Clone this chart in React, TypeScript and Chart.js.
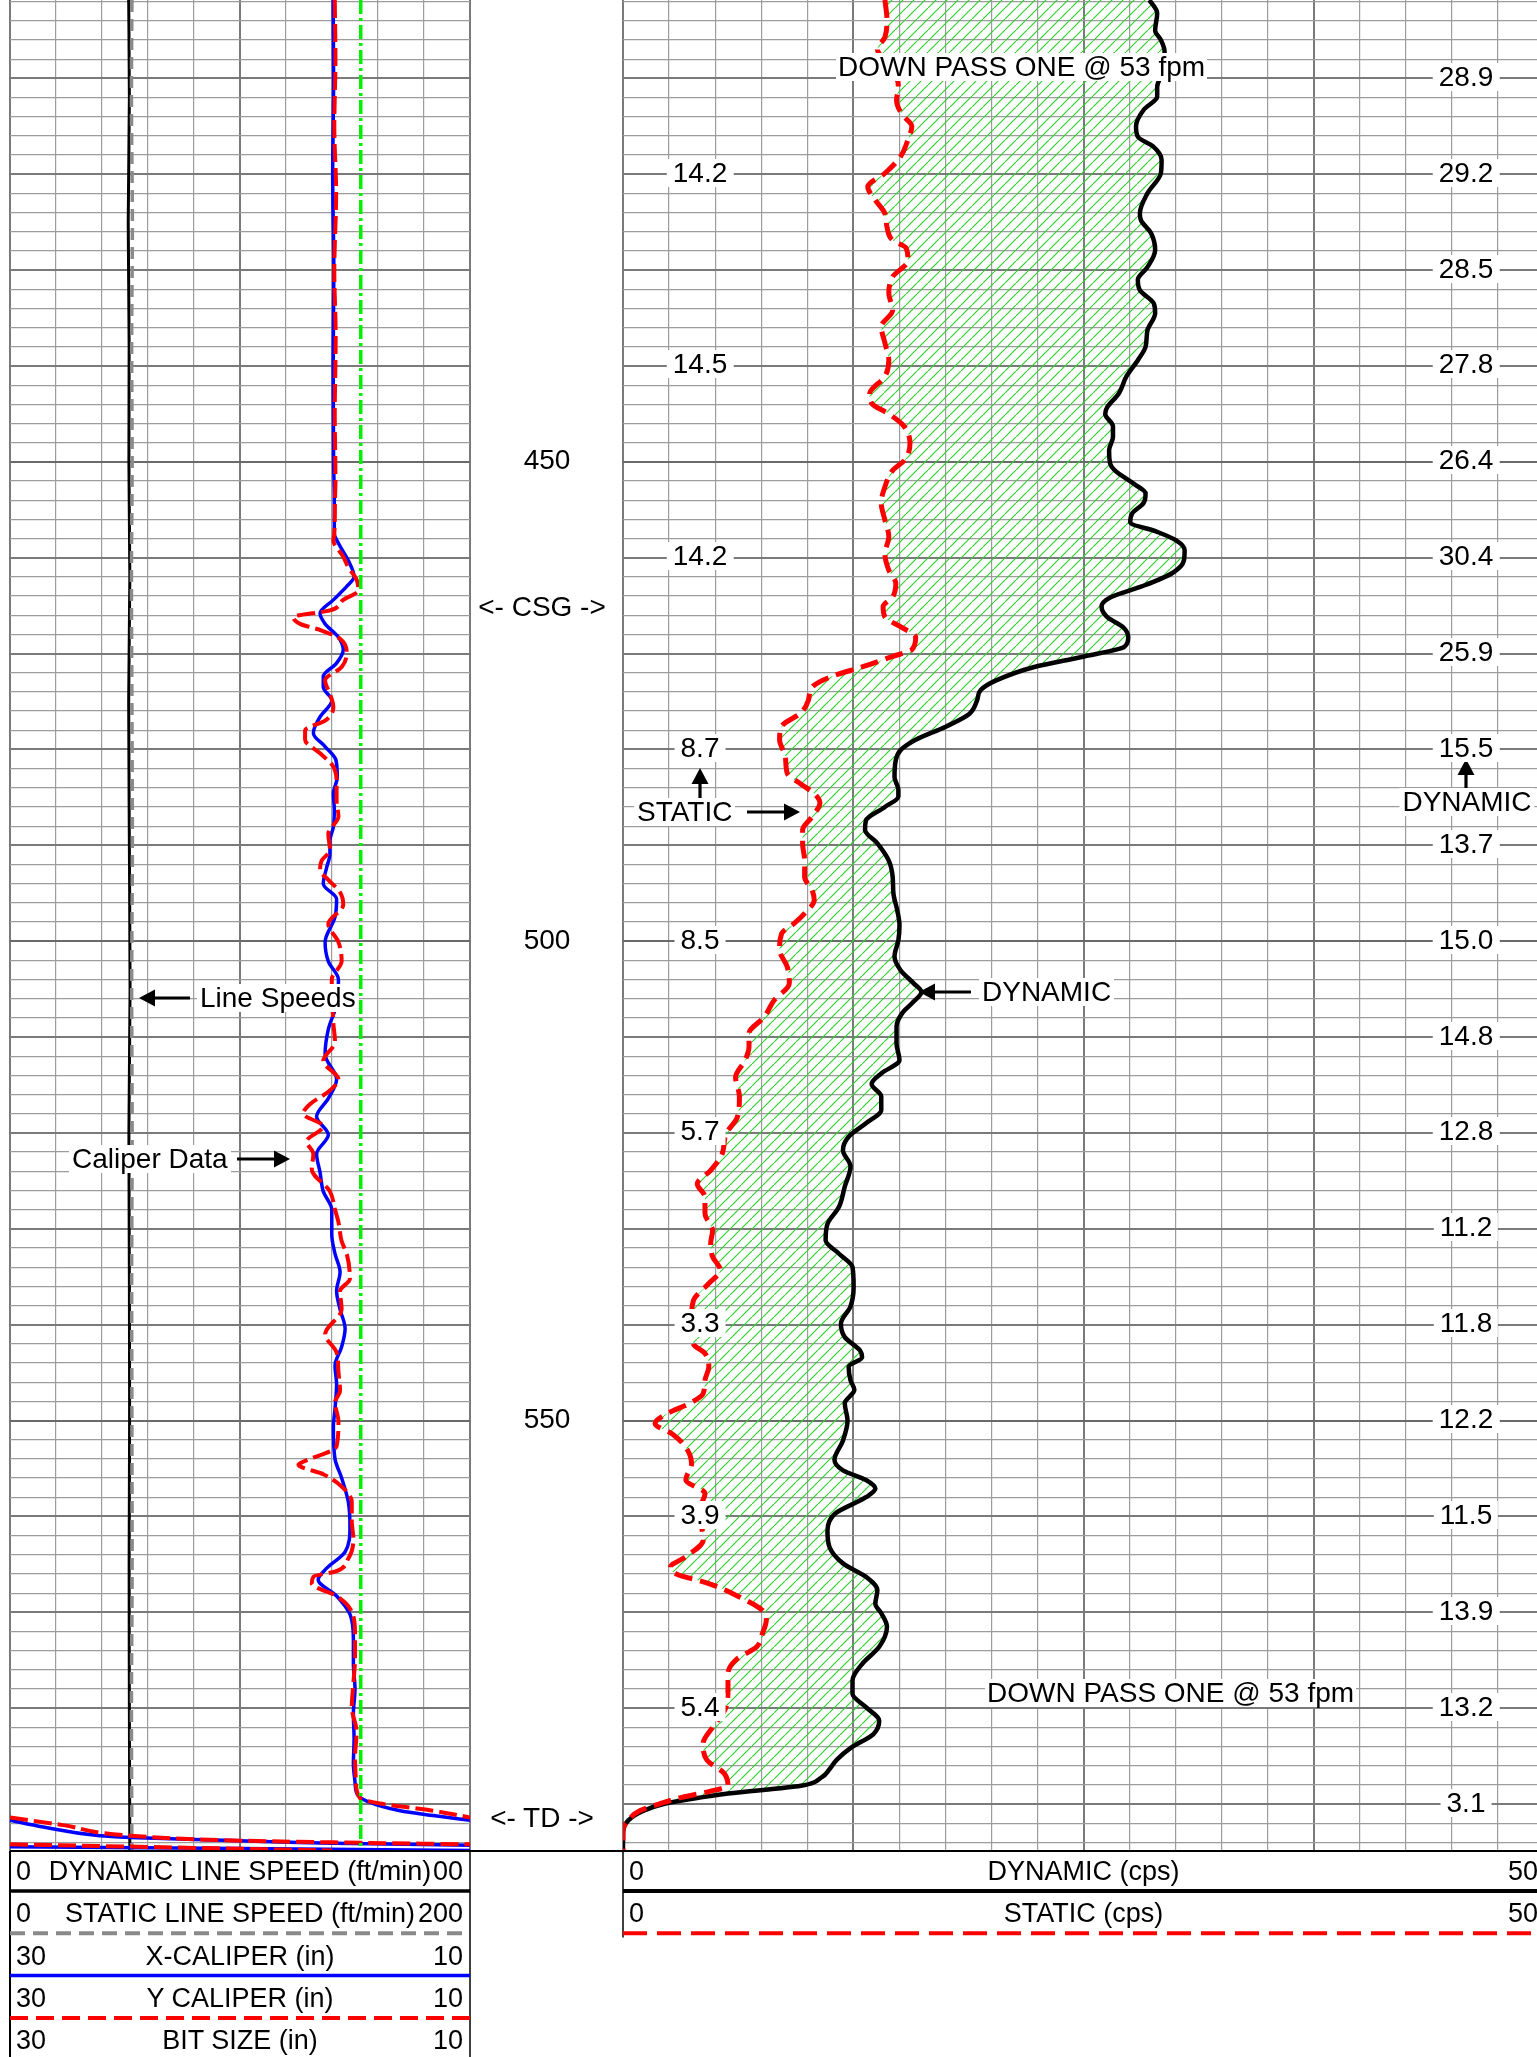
import React, { useEffect, useRef } from "react";
import { Chart, registerables } from "chart.js";

Chart.register(...registerables);

// ---------------- depth axis (ft) ----------------
const DEPTH_TOP = 401.83;
const DEPTH_BOTTOM = 594.9;
const DEPTH_LABELS = [450, 500, 550];

// ---------------- right track: count rates (cps) ----------------
const DYN_DEPTH = [
  401.83, 403.2, 405.0, 406.0, 407.2, 408.8, 410.9, 411.9, 413.3, 415.0, 416.1, 417.1, 418.5, 419.9, 422.0, 424.1,
  424.8, 426.2, 427.9, 429.7, 431.0, 432.1, 433.5, 434.5, 436.3, 438.0, 439.4, 441.1, 442.9, 444.3, 445.0, 446.3,
  447.4, 448.8, 450.2, 450.9, 452.3, 453.3, 454.3, 455.4, 456.3, 457.3, 458.2, 459.2, 460.3, 461.6, 463.0, 464.1,
  465.1, 466.2, 467.2, 468.3, 469.3, 470.3, 471.4, 472.8, 473.8, 474.9, 476.3, 477.6, 479.0, 480.1, 481.1, 482.9,
  484.2, 484.9, 486.0, 487.4, 488.4, 489.8, 491.6, 493.3, 495.0, 496.8, 498.3, 499.9, 501.6, 503.0, 504.4, 505.3,
  506.3, 507.5, 508.9, 510.7, 512.4, 513.8, 514.9, 516.2, 517.6, 519.0, 520.4, 521.8, 523.5, 525.6, 527.7, 529.5,
  531.2, 532.6, 534.0, 536.1, 538.1, 539.9, 541.3, 542.7, 543.4, 544.4, 545.8, 546.8, 548.2, 550.0, 552.1, 554.1,
  555.2, 556.2, 557.1, 558.0, 559.7, 561.5, 563.2, 564.9, 566.3, 567.7, 569.1, 570.1, 571.5, 573.6, 575.4, 577.1,
  578.5, 579.9, 581.3, 582.7, 584.1, 585.4, 586.4, 587.2, 588.1, 588.9, 589.5, 590.0, 590.7, 591.7, 593.1, 594.9,
];
const DYN_CPS = [
  28.58, 29.0, 28.89, 29.2, 29.4, 29.4, 29.0, 29.0, 28.26, 27.85, 27.95, 28.78, 29.24, 29.2, 28.47, 28.06,
  28.12, 28.68, 28.89, 28.47, 27.95, 28.06, 28.82, 28.89, 28.47, 28.37, 27.95, 27.33, 26.91, 26.29, 26.18, 26.6,
  26.6, 26.39, 26.45, 26.7, 27.74, 28.37, 28.26, 27.64, 27.54, 29.0, 30.03, 30.49, 30.45, 29.83, 28.16, 26.5,
  25.98, 26.29, 27.12, 27.43, 27.22, 25.04, 22.33, 20.26, 19.42, 19.22, 18.8, 17.55, 15.89, 15.06, 14.81, 14.74,
  14.95, 14.95, 14.22, 13.19, 13.14, 13.81, 14.43, 14.64, 14.68, 14.89, 15.01, 14.95, 14.74, 15.06, 15.78, 16.2,
  15.78, 15.16, 14.85, 14.85, 15.01, 14.02, 13.5, 14.02, 14.02, 13.19, 12.25, 11.94, 12.35, 12.04, 11.73, 11.1,
  11.0, 11.73, 12.46, 12.52, 12.35, 11.83, 12.04, 12.87, 12.98, 12.25, 12.35, 12.56, 12.04, 12.19, 11.94, 11.48,
  11.94, 13.19, 13.7, 13.19, 11.52, 11.1, 11.21, 11.94, 13.19, 13.81, 13.7, 14.02, 14.33, 13.91, 12.98, 12.46,
  12.46, 13.19, 13.91, 13.6, 12.4, 11.6, 11.2, 10.8, 9.65, 5.7, 3.62, 2.2, 1.12, 0.29, 0.0, 0.0,
];

const STAT_DEPTH = [
  401.83, 403.9, 405.7, 407.0, 408.8, 410.9, 412.3, 413.8, 415.0, 416.4, 418.2, 419.9, 421.3, 422.7, 424.1, 425.5,
  426.9, 427.7, 429.0, 430.7, 432.4, 434.2, 435.9, 437.6, 439.4, 441.1, 442.9, 443.9, 445.0, 446.3, 448.1, 449.8,
  450.9, 452.6, 454.3, 456.1, 457.8, 459.6, 461.3, 462.7, 464.1, 465.1, 466.2, 467.2, 468.3, 469.6, 470.3, 471.4,
  472.4, 473.5, 474.9, 476.2, 477.6, 479.0, 480.8, 482.5, 483.6, 484.6, 485.6, 487.0, 488.4, 489.8, 491.6, 493.3,
  494.7, 495.7, 497.1, 498.3, 499.2, 500.9, 502.7, 504.4, 506.2, 507.9, 509.6, 511.0, 512.4, 514.2, 516.2, 518.3,
  520.1, 522.2, 523.9, 525.3, 526.7, 528.4, 530.2, 531.5, 532.9, 534.3, 535.7, 537.5, 539.5, 542.0, 543.0, 544.4,
  545.8, 547.2, 548.2, 549.3, 550.3, 551.4, 552.8, 554.5, 556.2, 557.6, 559.0, 560.4, 562.5, 564.2, 565.3, 566.0,
  567.0, 568.4, 569.8, 570.8, 572.2, 573.6, 575.0, 576.4, 577.8, 579.9, 582.0, 583.7, 585.4, 586.8, 588.1, 588.7,
  589.3, 590.0, 590.7, 591.7, 592.7, 594.9,
];
const STAT_CPS = [
  14.22, 14.33, 14.22, 13.81, 14.6, 14.95, 14.85, 15.16, 15.68, 15.47, 15.06, 14.22, 13.29, 13.7, 14.22, 14.33,
  14.64, 15.37, 15.47, 14.64, 14.43, 14.64, 14.02, 14.22, 14.43, 14.22, 13.39, 13.5, 14.43, 15.26, 15.58, 15.3,
  14.64, 14.22, 14.02, 14.22, 14.43, 14.22, 14.43, 14.81, 14.64, 14.12, 14.22, 15.06, 15.89, 15.68, 14.64, 12.98,
  11.31, 10.27, 10.06, 9.65, 8.61, 8.5, 8.82, 8.92, 9.65, 10.38, 10.69, 10.27, 9.75, 9.75, 9.86, 9.86,
  10.27, 10.38, 9.86, 9.2, 8.61, 8.5, 8.92, 9.03, 8.19, 7.67, 6.84, 6.84, 6.63, 6.11, 6.32, 6.22,
  5.59, 5.38, 4.76, 4.03, 4.45, 4.45, 4.86, 4.76, 4.86, 5.28, 4.66, 3.82, 3.72, 3.82, 4.45, 4.66,
  4.45, 4.35, 3.62, 2.37, 1.74, 2.68, 3.41, 3.72, 3.41, 4.45, 4.24, 4.24, 4.35, 3.41, 2.58, 2.89,
  4.66, 6.32, 7.57, 7.78, 7.57, 7.26, 6.11, 5.7, 5.7, 5.59, 4.86, 4.35, 4.55, 5.49, 5.7, 4.66,
  3.2, 1.95, 0.91, 0.29, 0.0, 0.0,
];

const STATIC_LABEL_DEPTHS = [420, 440, 460, 480, 500, 520, 540, 560, 580];
const STATIC_LABEL_TEXT = ["14.2", "14.5", "14.2", "8.7", "8.5", "5.7", "3.3", "3.9", "5.4"];
const DYNAMIC_LABEL_DEPTHS = [410, 420, 430, 440, 450, 460, 470, 480, 490, 500, 510, 520, 530, 540, 550, 560, 570, 580, 590];
const DYNAMIC_LABEL_TEXT = ["28.9", "29.2", "28.5", "27.8", "26.4", "30.4", "25.9", "15.5", "13.7", "15.0", "14.8", "12.8", "11.2", "11.8", "12.2", "11.5", "13.9", "13.2", "3.1"];

// ---------------- left track: line speeds (ft/min) ----------------
const LS_DEPTH = [401.83, 412, 425, 438, 450, 462, 475, 490, 505, 520, 535, 550, 565, 580, 594.9];
const DYN_LINE_SPEED = [51.6, 51.9, 51.4, 51.8, 51.7, 52.1, 51.6, 51.9, 52.2, 51.7, 51.9, 52.0, 51.8, 51.9, 52.1];
const STAT_LINE_SPEED = [53.0, 52.8, 53.2, 52.9, 53.1, 52.8, 53.0, 53.2, 52.9, 53.1, 52.9, 53.0, 53.1, 52.8, 53.0];

// ---------------- left track: calipers / bit size (in) ----------------
const BIT_DEPTH = [401.83, 594.9];
const BIT_SIZE = [14.75, 14.75];

const XCAL_DEPTH = [
  401.83, 410, 420, 430, 440, 450, 454.0, 457.5, 458.5, 460.3, 462.0, 463.0, 464.4, 465.8, 466.9, 468.3,
  469.6, 471.0, 472.4, 473.5, 474.9, 476.6, 478.3, 479.7, 481.1, 482.9, 484.6, 486.3, 488.1, 489.5, 490.9, 492.3,
  494.0, 495.6, 497.5, 500.1, 502.1, 504.0, 506.6, 509.2, 511.8, 514.4, 516.4, 518.3, 520.2, 522.2, 524.1, 526.1,
  528.0, 530.6, 532.6, 534.5, 536.5, 538.4, 540.4, 542.3, 544.3, 546.2, 548.8, 550.7, 554.0, 556.0, 558.5, 561.1,
  563.7, 565.4, 566.6, 568.3, 570.2, 572.8, 575.4, 578.0, 580.6, 583.2, 585.8, 587.7, 589.0, 589.7, 590.7, 591.2,
  591.7,
];
const XCAL_IN = [
  15.95, 15.93, 15.97, 15.92, 15.95, 15.93, 15.9, 15.9, 15.72, 15.29, 15.04, 15.36, 15.94, 16.52, 16.3, 15.72,
  15.51, 15.8, 16.38, 16.38, 16.01, 16.52, 16.81, 16.3, 15.83, 15.77, 15.94, 15.9, 15.94, 16.09, 16.09, 16.23,
  16.38, 15.8, 15.87, 16.3, 16.16, 15.72, 15.8, 16.16, 16.3, 15.8, 16.16, 16.67, 16.16, 16.67, 16.52, 16.38,
  16.01, 16.01, 15.87, 15.65, 15.8, 15.65, 15.43, 15.58, 15.87, 15.8, 15.87, 15.94, 15.87, 15.58, 15.29, 15.22,
  15.43, 16.23, 16.6, 15.8, 15.22, 15.07, 15.07, 15.0, 15.07, 15.04, 15.07, 15.0, 14.9, 14.49, 13.04, 11.6,
  10.0,
];
const XCAL_WRAP1_DEPTH = [591.7, 592.4, 593.3, 593.5, 593.8, 594.1, 594.3];
const XCAL_WRAP1_IN = [10.0, 8.55, 6.09, 4.78, 0.3, -4.04, -10.0];
const XCAL_WRAP2_DEPTH = [594.45, 594.85];
const XCAL_WRAP2_IN = [-10.0, -30.0];

const YCAL_DEPTH = [
  401.83, 408, 415, 422, 430, 437, 445, 452, 454.0, 457.5, 458.2, 459.9, 461.0, 462.3, 463.4, 464.4,
  465.5, 466.2, 466.9, 467.6, 468.6, 470.0, 471.4, 472.8, 474.2, 475.6, 477.0, 478.0, 479.0, 480.4, 481.8, 483.6,
  485.3, 487.0, 488.8, 490.5, 491.6, 492.6, 493.6, 494.9, 496.2, 498.2, 500.1, 502.1, 504.0, 508.6, 510.5, 512.5,
  514.4, 515.7, 517.0, 518.0, 519.3, 520.9, 522.2, 523.8, 526.1, 528.0, 529.3, 531.3, 532.6, 535.2, 536.5, 538.4,
  541.0, 542.9, 544.9, 546.9, 548.1, 550.1, 552.7, 554.3, 554.6, 555.6, 556.6, 558.5, 560.5, 562.4, 564.4, 565.7,
  566.3, 567.0, 568.3, 569.6, 572.2, 574.8, 577.4, 579.9, 582.5, 585.1, 587.7, 589.4, 590.0, 590.7, 591.4,
];
const YCAL_IN = [
  15.88, 15.85, 15.9, 15.82, 15.9, 15.84, 15.88, 15.85, 15.87, 15.9, 15.94, 15.51, 15.29, 14.93, 14.86, 15.51,
  16.09, 17.68, 17.39, 16.45, 15.58, 15.36, 15.58, 16.3, 16.09, 15.94, 16.3, 17.17, 17.17, 16.52, 15.94, 15.8,
  15.8, 15.72, 16.16, 16.09, 16.45, 16.52, 16.16, 15.65, 15.51, 16.16, 15.72, 15.58, 16.01, 15.94, 15.87, 16.38,
  15.72, 16.16, 16.96, 17.25, 16.38, 17.1, 16.81, 16.88, 16.09, 15.87, 15.72, 15.58, 15.36, 15.22, 15.65, 15.58,
  16.3, 15.8, 15.72, 15.65, 15.87, 15.72, 15.8, 17.25, 17.46, 16.38, 15.72, 15.14, 15.14, 15.07, 15.29, 15.8,
  16.81, 16.88, 15.8, 15.22, 15.0, 15.0, 15.07, 15.14, 14.93, 15.0, 14.96, 14.78, 13.77, 11.6, 10.0,
];
const YCAL_WRAP1_DEPTH = [591.4, 592.2, 593.3, 593.8, 594.0, 594.2];
const YCAL_WRAP1_IN = [10.0, 7.7, 4.78, 0.3, -4.04, -10.0];
const YCAL_WRAP2_DEPTH = [594.2, 594.85];
const YCAL_WRAP2_IN = [-10.0, -24.0];

// ---------------- header / legend text ----------------
const LEFT_LEGEND_MIN = ["0", "0", "30", "30", "30"];
const LEFT_LEGEND_TITLE = ["DYNAMIC LINE SPEED (ft/min)", "STATIC LINE SPEED (ft/min)", "X-CALIPER (in)", "Y CALIPER (in)", "BIT SIZE (in)"];
const LEFT_LEGEND_MAX = ["200", "200", "10", "10", "10"];
const RIGHT_LEGEND_MIN = ["0", "0"];
const RIGHT_LEGEND_TITLE = ["DYNAMIC (cps)", "STATIC (cps)"];
const RIGHT_LEGEND_MAX = ["50", "50"];

// ---------------- layout ----------------
const W = 1537;
const H = 2057;
const PLOT_H = 1851;
const PAD = 3;
const L_X0 = 10;
const L_X1 = 470;
const R_X0 = 623;
const R_X1 = 1544;
const FONT = '"Liberation Sans", Arial, Helvetica, sans-serif';
const TEXT_SIZE = 28;

const yOf = (d: number) => ((d - DEPTH_TOP) / (DEPTH_BOTTOM - DEPTH_TOP)) * PLOT_H;
const pts = (ys: number[], xs: number[]) => ys.map((y, i) => ({ x: xs[i], y }));

const depthGrid: number[] = [];
for (let d = 402; d <= 594; d += 2) depthGrid.push(d);
const cpsGrid: number[] = [];
for (let i = 0; i <= 20; i++) cpsGrid.push(i * 2.5);
const leftGrid: number[] = [];
for (let i = 0; i <= 10; i++) leftGrid.push(i);

const MINOR = "#9c9c9c";
const MAJOR = "#7a7a7a";

const yScale = () => ({
  type: "linear",
  axis: "y",
  position: "left",
  min: DEPTH_TOP,
  max: DEPTH_BOTTOM,
  reverse: true,
  afterBuildTicks: (s: any) => {
    s.ticks = depthGrid.map((value) => ({ value }));
  },
  ticks: { display: false },
  grid: {
    drawTicks: false,
    color: (c: any) => {
      const v = c.tick ? c.tick.value : 1;
      return v % 50 === 0 ? "#6a6a6a" : v % 10 === 0 ? MAJOR : MINOR;
    },
    lineWidth: (c: any) => {
      const v = c.tick ? c.tick.value : 1;
      return v % 10 === 0 ? 2 : 1.2;
    },
  },
  border: { display: false },
});

const hidden = (min: number, max: number, reverse: boolean) => ({
  type: "linear",
  axis: "x",
  position: "bottom",
  display: false,
  min,
  max,
  reverse,
});

const base = {
  pointRadius: 0,
  pointHoverRadius: 0,
  fill: false,
  cubicInterpolationMode: "monotone",
};

const hatchPlugin = {
  id: "hatchFill",
  beforeDatasetsDraw(chart: any) {
    const a = chart.getDatasetMeta(0);
    const b = chart.getDatasetMeta(1);
    if (!a || !b || !a.dataset || !b.dataset) return;
    const area = chart.chartArea;
    a.dataset.updateControlPoints(area, "y");
    b.dataset.updateControlPoints(area, "y");
    const ctx = chart.ctx as CanvasRenderingContext2D;
    const tile = document.createElement("canvas");
    tile.width = 11;
    tile.height = 11;
    const g = tile.getContext("2d")!;
    g.strokeStyle = "#2fd02f";
    g.lineWidth = 1.2;
    g.beginPath();
    g.moveTo(-2, 13);
    g.lineTo(13, -2);
    g.stroke();
    const pattern = ctx.createPattern(tile, "repeat");
    const pa = a.data;
    const pb = b.data;
    ctx.save();
    ctx.beginPath();
    ctx.rect(area.left, area.top, area.right - area.left, area.bottom - area.top);
    ctx.clip();
    ctx.beginPath();
    ctx.moveTo(pa[0].x, pa[0].y);
    for (let i = 1; i < pa.length; i++) {
      const p = pa[i - 1];
      const c = pa[i];
      if (p.cp2x !== undefined && c.cp1x !== undefined) ctx.bezierCurveTo(p.cp2x, p.cp2y, c.cp1x, c.cp1y, c.x, c.y);
      else ctx.lineTo(c.x, c.y);
    }
    const last = pb[pb.length - 1];
    ctx.lineTo(last.x, last.y);
    for (let i = pb.length - 1; i > 0; i--) {
      const c = pb[i];
      const p = pb[i - 1];
      if (p.cp2x !== undefined && c.cp1x !== undefined) ctx.bezierCurveTo(c.cp1x, c.cp1y, p.cp2x, p.cp2y, p.x, p.y);
      else ctx.lineTo(p.x, p.y);
    }
    ctx.closePath();
    if (pattern) ctx.fillStyle = pattern;
    ctx.fill();
    ctx.restore();
  },
};

const commonOptions = {
  responsive: false,
  animation: false,
  events: [],
  indexAxis: "y",
  layout: { padding: PAD },
  plugins: { legend: { display: false }, tooltip: { enabled: false } },
};

function leftConfig(): any {
  return {
    type: "line",
    data: {
      datasets: [
        { ...base, label: "BIT SIZE (in)", data: pts(BIT_DEPTH, BIT_SIZE), xAxisID: "xCal", borderColor: "#00f000", borderWidth: 3.5, borderDash: [14, 4, 3, 4], order: 0 },
        { ...base, label: "Y CALIPER (in)", data: pts(YCAL_DEPTH, YCAL_IN), xAxisID: "xCal", borderColor: "#ff0000", borderWidth: 4, borderDash: [18, 6], order: 1 },
        { ...base, label: "Y CALIPER wrap 1", data: pts(YCAL_WRAP1_DEPTH, YCAL_WRAP1_IN), xAxisID: "xWrap1", borderColor: "#ff0000", borderWidth: 4, borderDash: [18, 6], order: 1 },
        { ...base, label: "Y CALIPER wrap 2", data: pts(YCAL_WRAP2_DEPTH, YCAL_WRAP2_IN), xAxisID: "xWrap2", borderColor: "#ff0000", borderWidth: 4, borderDash: [18, 6], order: 1 },
        { ...base, label: "X-CALIPER (in)", data: pts(XCAL_DEPTH, XCAL_IN), xAxisID: "xCal", borderColor: "#0000ff", borderWidth: 3.5, order: 2 },
        { ...base, label: "X-CALIPER wrap 1", data: pts(XCAL_WRAP1_DEPTH, XCAL_WRAP1_IN), xAxisID: "xWrap1", borderColor: "#0000ff", borderWidth: 3.5, order: 2 },
        { ...base, label: "X-CALIPER wrap 2", data: pts(XCAL_WRAP2_DEPTH, XCAL_WRAP2_IN), xAxisID: "xWrap2", borderColor: "#0000ff", borderWidth: 3.5, order: 2 },
        { ...base, label: "STATIC LINE SPEED", data: pts(LS_DEPTH, STAT_LINE_SPEED), xAxisID: "xSpeed", borderColor: "#8a8a8a", borderWidth: 3.5, borderDash: [12, 7], order: 3 },
        { ...base, label: "DYNAMIC LINE SPEED", data: pts(LS_DEPTH, DYN_LINE_SPEED), xAxisID: "xSpeed", borderColor: "#000000", borderWidth: 3, order: 4 },
      ],
    },
    options: {
      ...commonOptions,
      scales: {
        x: {
          type: "linear",
          axis: "x",
          position: "bottom",
          min: 0,
          max: 10,
          afterBuildTicks: (s: any) => {
            s.ticks = leftGrid.map((value) => ({ value }));
          },
          ticks: { display: false },
          grid: {
            drawTicks: false,
            color: (c: any) => (c.tick && (c.tick.value === 0 || c.tick.value === 5 || c.tick.value === 10) ? MAJOR : MINOR),
            lineWidth: (c: any) => (c.tick && (c.tick.value === 0 || c.tick.value === 5 || c.tick.value === 10) ? 2 : 1.2),
          },
          border: { display: false },
        },
        xSpeed: hidden(0, 200, false),
        xCal: hidden(10, 30, true),
        xWrap1: hidden(-10, 10, true),
        xWrap2: hidden(-30, -10, true),
        y: yScale(),
      },
    },
  };
}

function rightConfig(): any {
  return {
    type: "line",
    data: {
      datasets: [
        { ...base, label: "DYNAMIC (cps)", data: pts(DYN_DEPTH, DYN_CPS), borderColor: "#000000", borderWidth: 4.5, order: 2 },
        { ...base, label: "STATIC (cps)", data: pts(STAT_DEPTH, STAT_CPS), borderColor: "#ff0000", borderWidth: 5, borderDash: [18, 8], order: 1 },
      ],
    },
    options: {
      ...commonOptions,
      scales: {
        x: {
          type: "linear",
          axis: "x",
          position: "bottom",
          min: 0,
          max: 50,
          afterBuildTicks: (s: any) => {
            s.ticks = cpsGrid.map((value) => ({ value }));
          },
          ticks: { display: false },
          grid: {
            drawTicks: false,
            color: (c: any) => (c.tick && c.tick.value % 12.5 === 0 ? MAJOR : MINOR),
            lineWidth: (c: any) => (c.tick && c.tick.value % 12.5 === 0 ? 2 : 1.2),
          },
          border: { display: false },
        },
        y: yScale(),
      },
    },
    plugins: [hatchPlugin],
  };
}

type TP = { x: number; y: number; text: string; anchor?: "left" | "center" | "right"; bg?: boolean; size?: number; pad?: number; z?: number };
function T({ x, y, text, anchor = "center", bg = true, size = TEXT_SIZE, pad = 6, z = 3 }: TP) {
  const tx = anchor === "center" ? "-50%" : anchor === "right" ? "-100%" : "0";
  const left = anchor === "left" ? x - pad : anchor === "right" ? x + pad : x;
  return (
    <div
      style={{
        position: "absolute",
        left,
        top: y,
        transform: `translate(${tx}, -50%)`,
        fontFamily: FONT,
        fontSize: size,
        lineHeight: "28px",
        height: 28,
        padding: `0 ${pad}px`,
        background: bg ? "#ffffff" : "transparent",
        whiteSpace: "nowrap",
        color: "#000",
        zIndex: z,
      }}
    >
      {text}
    </div>
  );
}

function Arrow({ x1, y1, x2, y2 }: { x1: number; y1: number; x2: number; y2: number }) {
  const dx = x2 - x1;
  const dy = y2 - y1;
  const len = Math.hypot(dx, dy);
  const ux = dx / len;
  const uy = dy / len;
  const hl = 16;
  const hw = 8.5;
  const bx = x2 - ux * hl;
  const by = y2 - uy * hl;
  const px = -uy;
  const py = ux;
  return (
    <g>
      <line x1={x1} y1={y1} x2={bx} y2={by} stroke="#000" strokeWidth={3.2} />
      <polygon points={`${x2},${y2} ${bx + px * hw},${by + py * hw} ${bx - px * hw},${by - py * hw}`} fill="#000" />
    </g>
  );
}

const ROW_Y0 = 1871;
const ROW_DY = 42.3;

export default function App() {
  const leftRef = useRef<HTMLCanvasElement>(null);
  const rightRef = useRef<HTMLCanvasElement>(null);

  useEffect(() => {
    document.body.style.margin = "0";
    const lc = new Chart(leftRef.current as HTMLCanvasElement, leftConfig());
    const rc = new Chart(rightRef.current as HTMLCanvasElement, rightConfig());
    return () => {
      lc.destroy();
      rc.destroy();
    };
  }, []);

  const lw = L_X1 - L_X0 + 2 * PAD;
  const rw = R_X1 - R_X0 + 2 * PAD;
  const ch = PLOT_H + 2 * PAD;

  const leftLineStyles = [
    { stroke: "#000", w: 3.5, dash: "" },
    { stroke: "#8a8a8a", w: 4, dash: "15 8" },
    { stroke: "#0000ff", w: 3.5, dash: "" },
    { stroke: "#ff0000", w: 4, dash: "18 8" },
    { stroke: "#00f000", w: 3.5, dash: "14 4 3 4" },
  ];
  const rightLineStyles = [
    { stroke: "#000", w: 4, dash: "" },
    { stroke: "#ff0000", w: 4, dash: "24 10" },
  ];

  return (
    <div style={{ position: "absolute", left: 0, top: 0, width: W, height: H, overflow: "hidden", background: "#fff" }}>
      <canvas ref={leftRef} width={lw} height={ch} style={{ position: "absolute", left: L_X0 - PAD, top: -PAD, width: lw, height: ch }} />
      <canvas ref={rightRef} width={rw} height={ch} style={{ position: "absolute", left: R_X0 - PAD, top: -PAD, width: rw, height: ch }} />

      <svg width={W} height={H} style={{ position: "absolute", left: 0, top: 0, zIndex: 2 }}>
        <line x1={L_X0} y1={PLOT_H} x2={W} y2={PLOT_H} stroke="#000" strokeWidth={2} />
        <line x1={L_X0} y1={PLOT_H} x2={L_X0} y2={H} stroke="#000" strokeWidth={2} />
        <line x1={L_X1} y1={PLOT_H} x2={L_X1} y2={H} stroke="#000" strokeWidth={1.5} />
        <line x1={R_X0} y1={PLOT_H} x2={R_X0} y2={PLOT_H + 2 * ROW_DY + 2} stroke="#000" strokeWidth={1.5} />
        {leftLineStyles.map((s, i) => (
          <line key={"ll" + i} x1={L_X0} x2={L_X1} y1={ROW_Y0 + 20 + i * ROW_DY} y2={ROW_Y0 + 20 + i * ROW_DY} stroke={s.stroke} strokeWidth={s.w} strokeDasharray={s.dash || undefined} />
        ))}
        {rightLineStyles.map((s, i) => (
          <line key={"rl" + i} x1={R_X0} x2={R_X1} y1={ROW_Y0 + 20 + i * ROW_DY} y2={ROW_Y0 + 20 + i * ROW_DY} stroke={s.stroke} strokeWidth={s.w} strokeDasharray={s.dash || undefined} />
        ))}
        <Arrow x1={190} y1={998} x2={139} y2={998} />
        <Arrow x1={237} y1={1159} x2={290} y2={1159} />
        <Arrow x1={747} y1={812} x2={800} y2={812} />
        <Arrow x1={700} y1={798} x2={700} y2={768} />
        <Arrow x1={1466} y1={789} x2={1466} y2={759} />
        <Arrow x1={971} y1={992} x2={919} y2={992} />
      </svg>

      {/* depth column */}
      {DEPTH_LABELS.map((d) => (
        <T key={"d" + d} x={547} y={yOf(d) - 1.5} text={String(d)} bg={false} />
      ))}
      <T x={542} y={607} text="<- CSG ->" bg={false} />
      <T x={542} y={1818} text="<- TD ->" bg={false} />

      {/* right track value labels */}
      {STATIC_LABEL_DEPTHS.map((d, i) => (
        <T key={"s" + d} x={700} y={yOf(d) - 1.5} text={STATIC_LABEL_TEXT[i]} />
      ))}
      {DYNAMIC_LABEL_DEPTHS.map((d, i) => (
        <T key={"n" + d} x={1466} y={yOf(d) - 1.5} text={DYNAMIC_LABEL_TEXT[i]} />
      ))}

      {/* annotations */}
      <T x={838} y={67} text="DOWN PASS ONE @ 53 fpm" anchor="left" pad={2} />
      <T x={987} y={1693} text="DOWN PASS ONE @ 53 fpm" anchor="left" pad={2} />
      <T x={637} y={812} text="STATIC" anchor="left" pad={3} />
      <T x={1467} y={802} text="DYNAMIC" pad={3} />
      <T x={982} y={992} text="DYNAMIC" anchor="left" pad={3} />
      <T x={200} y={998} text="Line Speeds" anchor="left" pad={3} />
      <T x={72} y={1159} text="Caliper Data" anchor="left" pad={3} />

      {/* legends */}
      {LEFT_LEGEND_TITLE.map((t, i) => (
        <React.Fragment key={"lg" + i}>
          <T x={16} y={ROW_Y0 + i * ROW_DY} text={LEFT_LEGEND_MIN[i]} anchor="left" bg={false} size={27} pad={0} />
          <T x={463} y={ROW_Y0 + i * ROW_DY} text={LEFT_LEGEND_MAX[i]} anchor="right" bg={false} size={27} pad={0} />
          <T x={(L_X0 + L_X1) / 2} y={ROW_Y0 + i * ROW_DY} text={t} bg={i === 0} size={27} pad={1} z={4} />
        </React.Fragment>
      ))}
      {RIGHT_LEGEND_TITLE.map((t, i) => (
        <React.Fragment key={"rg" + i}>
          <T x={629} y={ROW_Y0 + i * ROW_DY} text={RIGHT_LEGEND_MIN[i]} anchor="left" bg={false} size={27} pad={0} />
          <T x={1538} y={ROW_Y0 + i * ROW_DY} text={RIGHT_LEGEND_MAX[i]} anchor="right" bg={false} size={27} pad={0} />
          <T x={(R_X0 + R_X1) / 2} y={ROW_Y0 + i * ROW_DY} text={t} bg={false} size={27} pad={1} />
        </React.Fragment>
      ))}
    </div>
  );
}
